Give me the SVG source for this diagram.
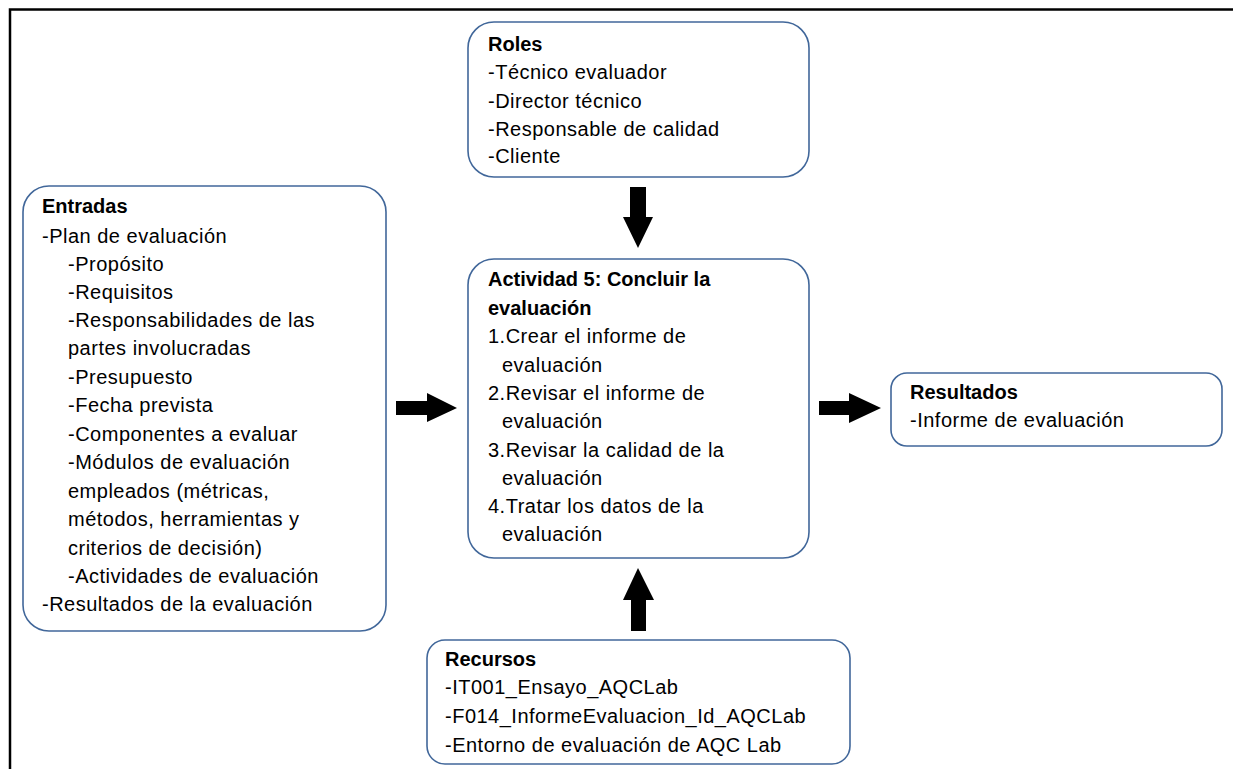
<svg xmlns="http://www.w3.org/2000/svg" width="1233" height="769" viewBox="0 0 1233 769">
<style>
.box{fill:#fff;stroke:#41679a;stroke-width:1.6}
.t{font-family:"Liberation Sans",Arial,sans-serif;font-size:20px;letter-spacing:0.5px;fill:#000}
.b{font-weight:bold;letter-spacing:0}
.arr{fill:#000}
</style>
<rect width="1233" height="769" fill="#fff"/>
<g id="frame">
<path d="M10,769 V9.5 H1233" fill="none" stroke="#000" stroke-width="2.5"/>
</g>
<g id="roles">
<rect class="box" x="468" y="22" width="341" height="155" rx="26"/>
<text class="t b" x="488" y="51">Roles</text>
<text class="t" x="488" y="79">-Técnico evaluador</text>
<text class="t" x="488" y="108">-Director técnico</text>
<text class="t" x="488" y="136">-Responsable de calidad</text>
<text class="t" x="488" y="163">-Cliente</text>
</g>
<g id="entradas">
<rect class="box" x="23" y="186" width="363" height="445" rx="26"/>
<text class="t b" x="42" y="213">Entradas</text>
<text class="t" x="42" y="243">-Plan de evaluación</text>
<text class="t" x="68" y="271">-Propósito</text>
<text class="t" x="68" y="299">-Requisitos</text>
<text class="t" x="68" y="327">-Responsabilidades de las</text>
<text class="t" x="68" y="355">partes involucradas</text>
<text class="t" x="68" y="384">-Presupuesto</text>
<text class="t" x="68" y="412">-Fecha prevista</text>
<text class="t" x="68" y="441">-Componentes a evaluar</text>
<text class="t" x="68" y="469">-Módulos de evaluación</text>
<text class="t" x="68" y="498">empleados (métricas,</text>
<text class="t" x="68" y="526">métodos, herramientas y</text>
<text class="t" x="68" y="555">criterios de decisión)</text>
<text class="t" x="68" y="583">-Actividades de evaluación</text>
<text class="t" x="42" y="611">-Resultados de la evaluación</text>
</g>
<g id="actividad">
<rect class="box" x="468" y="259" width="341" height="299" rx="26"/>
<text class="t b" x="488" y="286">Actividad 5: Concluir la</text>
<text class="t b" x="488" y="315">evaluación</text>
<text class="t" x="488" y="343">1.Crear el informe de</text>
<text class="t" x="502" y="372">evaluación</text>
<text class="t" x="488" y="400">2.Revisar el informe de</text>
<text class="t" x="502" y="428">evaluación</text>
<text class="t" x="488" y="457">3.Revisar la calidad de la</text>
<text class="t" x="502" y="485">evaluación</text>
<text class="t" x="488" y="513">4.Tratar los datos de la</text>
<text class="t" x="502" y="541">evaluación</text>
</g>
<g id="resultados">
<rect class="box" x="891" y="373" width="331" height="73" rx="16"/>
<text class="t b" x="910" y="399">Resultados</text>
<text class="t" x="910" y="427">-Informe de evaluación</text>
</g>
<g id="recursos">
<rect class="box" x="427" y="640" width="423" height="124" rx="18"/>
<text class="t b" x="445" y="666">Recursos</text>
<text class="t" x="445" y="694">-IT001_Ensayo_AQCLab</text>
<text class="t" x="445" y="723">-F014_InformeEvaluacion_Id_AQCLab</text>
<text class="t" x="445" y="752">-Entorno de evaluación de AQC Lab</text>
</g>
<g id="connectors">
<polygon class="arr" points="630,187 646,187 646,217 653,217 638,248 623,217 630,217"/>
<polygon class="arr" points="396,401 427,401 427,393 457,408 427,422 427,415 396,415"/>
<polygon class="arr" points="819,401 849,401 849,393 881,408 849,423 849,415 819,415"/>
<polygon class="arr" points="631,631 646,631 646,600 654,600 638,568 623,600 631,600"/>
</g>
</svg>
